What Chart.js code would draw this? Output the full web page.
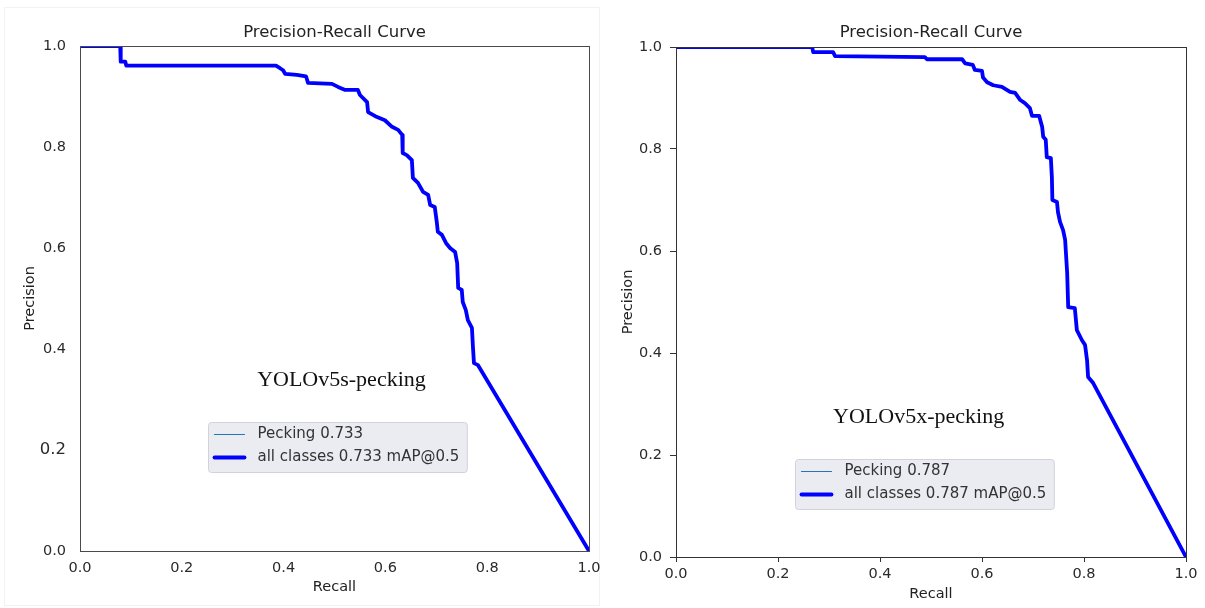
<!DOCTYPE html>
<html>
<head>
<meta charset="utf-8">
<title>Precision-Recall Curve</title>
<script src="https://cdn.jsdelivr.net/npm/chart.js@4.4.1/dist/chart.umd.min.js"></script>
<style>
  body { margin: 0; background: #fff; overflow: hidden; }
  #wrap { position: relative; width: 1205px; height: 608px; overflow: hidden; }
  canvas { position: absolute; top: 0; }
  #prS { left: 0; }
  #prX { left: 602px; }
  .edge { position: absolute; left: 4px; top: 7px; width: 596px; height: 599px; border: 1px solid #f2f2f2; box-sizing: border-box; }
</style>
</head>
<body>
<div id="wrap">
  <div class="edge"></div>
  <canvas id="prS" width="611" height="608"></canvas>
  <canvas id="prX" width="606" height="608"></canvas>
</div>
<script>
// ===== DATA =====
const className = 'Pecking';
const tickValues = [0, 0.2, 0.4, 0.6, 0.8, 1.0];

// YOLOv5s
const recallS = [0, 0.079, 0.080, 0.089, 0.091, 0.385, 0.393, 0.399, 0.403, 0.426,
  0.444, 0.448, 0.495, 0.507, 0.521, 0.546, 0.550, 0.564, 0.566, 0.580,
  0.599, 0.613, 0.625, 0.633, 0.634, 0.642, 0.652, 0.654, 0.664, 0.674,
  0.684, 0.688, 0.697, 0.701, 0.703, 0.711, 0.719, 0.727, 0.737, 0.741,
  0.743, 0.750, 0.752, 0.758, 0.762, 0.770, 0.772, 0.774, 0.782, 0.792, 1.0];
const precisionS = [1.0, 1.0, 0.969, 0.969, 0.961, 0.961, 0.956, 0.952, 0.945, 0.943,
  0.940, 0.927, 0.925, 0.919, 0.913, 0.913, 0.903, 0.889, 0.869, 0.861,
  0.853, 0.840, 0.834, 0.824, 0.788, 0.784, 0.774, 0.739, 0.729, 0.711,
  0.705, 0.685, 0.681, 0.651, 0.632, 0.626, 0.610, 0.600, 0.592, 0.570,
  0.521, 0.517, 0.493, 0.477, 0.457, 0.442, 0.404, 0.372, 0.368, 0.351, 0.0];
const apS = '0.733';

// YOLOv5x
const recallX = [0, 0.267, 0.269, 0.308, 0.312, 0.488, 0.492, 0.561, 0.567, 0.582,
  0.586, 0.600, 0.602, 0.610, 0.622, 0.639, 0.655, 0.665, 0.675, 0.684,
  0.694, 0.698, 0.712, 0.718, 0.720, 0.725, 0.727, 0.735, 0.737, 0.738,
  0.747, 0.749, 0.753, 0.759, 0.763, 0.767, 0.769, 0.782, 0.786, 0.796,
  0.802, 0.806, 0.808, 0.818, 1.0];
const precisionX = [1.0, 1.0, 0.990, 0.990, 0.982, 0.980, 0.976, 0.976, 0.968, 0.965,
  0.955, 0.953, 0.940, 0.931, 0.925, 0.922, 0.912, 0.910, 0.896, 0.890,
  0.880, 0.865, 0.865, 0.843, 0.824, 0.818, 0.784, 0.782, 0.745, 0.700,
  0.696, 0.676, 0.657, 0.641, 0.622, 0.557, 0.490, 0.488, 0.445, 0.425,
  0.416, 0.386, 0.353, 0.341, 0.0];
const apX = '0.787';

const FONT = 'DejaVu Sans';

// ===== FRAME, TITLE, MODEL NAME, LEGEND =====
const panelPlugin = {
  id: 'panel',
  afterDraw(chart, args, o) {
    const { ctx, chartArea: a, scales: { x, y } } = chart;
    ctx.save();

    ctx.strokeStyle = o.frameColor;
    ctx.lineWidth = 1;
    ctx.strokeRect(Math.round(a.left) + 0.5, Math.round(a.top) + 0.5, Math.round(a.width), Math.round(a.height));

    ctx.fillStyle = '#222';
    ctx.font = `16.5px "${FONT}"`;
    ctx.textAlign = 'center';
    ctx.textBaseline = 'middle';
    ctx.fillText(o.title, (a.left + a.right) / 2, o.titleY);

    ctx.fillStyle = '#111';
    ctx.font = '22px "Liberation Serif"';
    ctx.textAlign = 'left';
    ctx.textBaseline = 'alphabetic';
    ctx.fillText(o.note, x.getPixelForValue(o.noteAt[0]), y.getPixelForValue(o.noteAt[1]));

    // legend box
    ctx.font = `15px "${FONT}"`;
    const sets = chart.data.datasets;
    const tw = Math.max(...sets.map(d => ctx.measureText(d.label).width));
    const lx = Math.round(x.getPixelForValue(o.legendAt[0])) + 0.5;
    const ly = Math.round(y.getPixelForValue(o.legendAt[1])) + 0.5;
    ctx.beginPath();
    ctx.roundRect(lx, ly, 49 + tw + 8, 50, 3);
    ctx.fillStyle = '#ebebf2';
    ctx.fill();
    ctx.strokeStyle = '#d2d2d8';
    ctx.lineWidth = 1;
    ctx.stroke();
    sets.forEach((d, i) => {
      const ry = ly + 12 + i * 23;
      ctx.strokeStyle = d.borderColor;
      ctx.lineWidth = d.borderWidth;
      ctx.lineCap = 'round';
      ctx.beginPath();
      ctx.moveTo(lx + 6, ry);
      ctx.lineTo(lx + 36, ry);
      ctx.stroke();
      ctx.fillStyle = '#333';
      ctx.textBaseline = 'middle';
      ctx.fillText(d.label, lx + 49, ry);
    });
    ctx.restore();
  }
};

function drawPanel(id, recall, precision, ap, look) {
  const pts = recall.map((r, i) => ({ x: r, y: precision[i] }));
  const fmt = v => v.toFixed(1);
  const axisFont = { family: FONT, size: 14.5 };
  new Chart(document.getElementById(id), {
    type: 'line',
    data: {
      datasets: [
        { label: className + ' ' + ap, data: pts, borderColor: '#1f77b4', borderWidth: 1.2, order: 1, clip: 0 },
        { label: 'all classes ' + ap + ' mAP@0.5', data: pts, borderColor: '#0000ff', borderWidth: 3.8, order: 0, clip: 0 }
      ]
    },
    options: {
      responsive: false,
      animation: false,
      layout: { padding: { top: look.top, right: 22, left: 0, bottom: 0 } },
      elements: { point: { radius: 0 }, line: { tension: 0, borderJoinStyle: 'round' } },
      plugins: {
        legend: { display: false },
        tooltip: { enabled: false },
        panel: {
          title: 'Precision-Recall Curve', titleY: 33, frameColor: look.frame,
          note: look.note, noteAt: look.noteAt, legendAt: look.legendAt
        }
      },
      scales: {
        x: {
          type: 'linear', min: 0, max: 1,
          afterFit: s => { s.height = look.xHeight; },
          afterBuildTicks: s => { s.ticks = tickValues.map(v => ({ value: v })); },
          border: { display: false },
          grid: { drawOnChartArea: false, drawTicks: look.ticks, tickLength: 5, color: '#333' },
          ticks: { padding: look.ticks ? 4 : 9, color: '#2a2a2a', font: axisFont, callback: fmt, maxRotation: 0, autoSkip: false },
          title: { display: true, text: 'Recall', color: '#222', font: axisFont, padding: { top: 0, bottom: look.xTitlePad } }
        },
        y: {
          type: 'linear', min: 0, max: 1,
          afterFit: s => { s.width = look.yWidth; },
          afterBuildTicks: s => { s.ticks = tickValues.map(v => ({ value: v })); },
          border: { display: false },
          grid: { drawOnChartArea: false, drawTicks: look.ticks, tickLength: 6, color: '#333' },
          ticks: {
            padding: look.ticks ? 8 : 14, color: '#2a2a2a', callback: fmt, autoSkip: false,
            font: c => ({ family: FONT, size: (look.bigTick !== undefined && c.tick && Math.abs(c.tick.value - look.bigTick) < 1e-9) ? 16.5 : 14.5 })
          },
          title: { display: true, text: 'Precision', color: '#222', font: axisFont, padding: { top: look.yTitlePad, bottom: 0 } }
        }
      }
    },
    plugins: [panelPlugin]
  });
}

drawPanel('prS', recallS, precisionS, apS, {
  top: 46, yWidth: 80, xHeight: 57, ticks: false, yTitlePad: 22, xTitlePad: 12,
  bigTick: 0.2, frame: '#4a4a4a',
  note: 'YOLOv5s-pecking', noteAt: [0.348, 0.327], legendAt: [0.2515, 0.2554]
});

drawPanel('prX', recallX, precisionX, apX, {
  top: 47, yWidth: 74, xHeight: 51, ticks: true, yTitlePad: 18, xTitlePad: 5,
  frame: '#333',
  note: 'YOLOv5x-pecking', noteAt: [0.308, 0.263], legendAt: [0.2333, 0.192]
});
</script>
</body>
</html>
